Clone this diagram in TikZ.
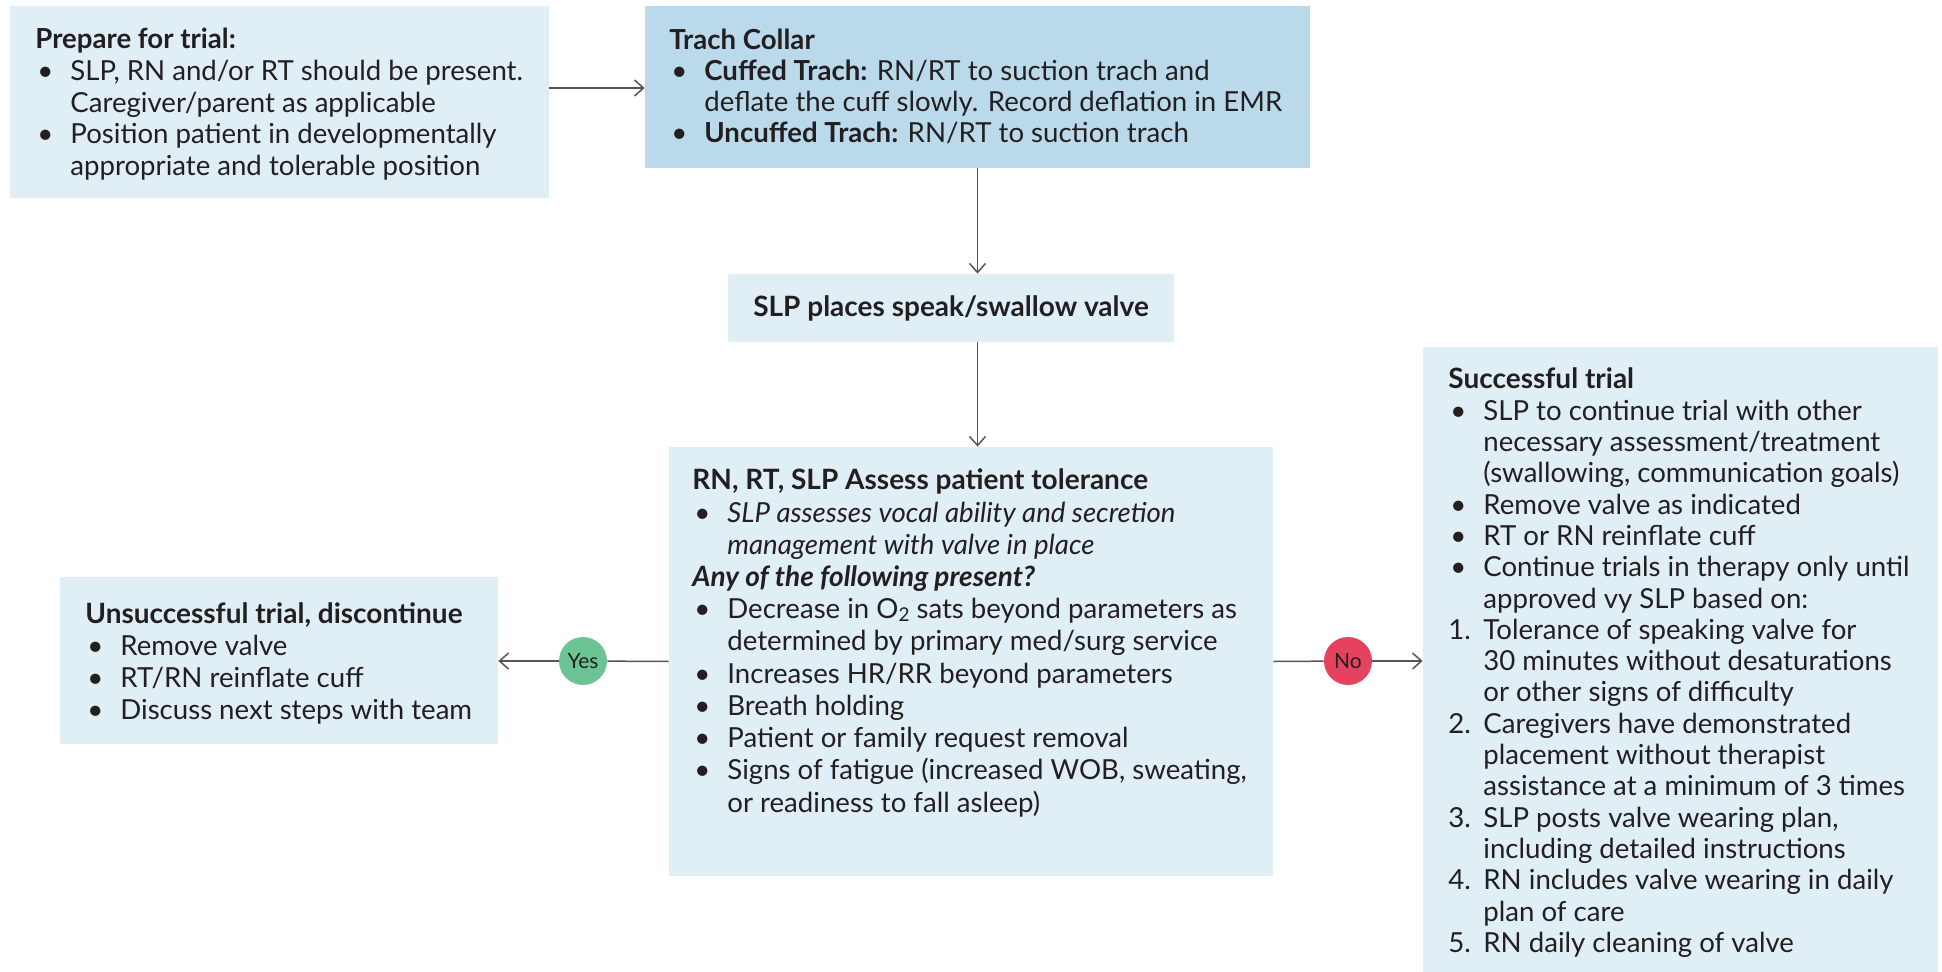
\documentclass[tikz,border=0pt]{standalone}
\usepackage{fontspec}
\setmainfont{Lato}
\usetikzlibrary{arrows.meta,fit,calc}
\definecolor{lightbox}{RGB}{224,238,246}
\definecolor{darkbox}{RGB}{186,218,235}
\definecolor{yesg}{RGB}{108,196,148}
\definecolor{nored}{RGB}{231,65,96}
\definecolor{textc}{RGB}{35,31,32}
\definecolor{linec}{RGB}{85,85,85}
\newcommand\LN[1]{\hbox{#1}}
\newcommand\BU{\hbox to 17.5pt{\hskip1pt\textbullet\hss}}
\newcommand\IN{\hskip17.5pt}
\newcommand\NU[1]{\hbox to 17.5pt{#1\hss}}
\newcommand\SUBTWO{\raisebox{-1.2pt}{\fontsize{9.5}{10}\selectfont 2}}
\tikzset{
  x=0.5pt, y=-0.5pt,
  lbox/.style={fill=lightbox, draw=none, inner sep=0pt},
  dbox/.style={fill=darkbox, draw=none, inner sep=0pt},
  txt/.style={inner sep=0pt, text=textc, font=\fontsize{13.8}{16}\selectfont},
  conn/.style={draw=linec, line width=0.75pt},
  arr/.style={conn, -{Straight Barb[length=4.5pt,width=8pt,line width=0.75pt]}},
  badge/.style={circle, minimum size=24pt, inner sep=0pt, text=textc, font=\fontsize{10.5}{12}\selectfont},
}
\begin{document}
\begin{tikzpicture}
\useasboundingbox (0,0) rectangle (1942,972);
% boxes
\node[lbox, fit={(10,6)(549,198)}] (prep) {};
\node[dbox, fit={(645,6)(1310,168)}] (trach) {};
\node[lbox, fit={(728,274)(1174,342)}] (slp) {};
\node[lbox, fit={(669,447)(1273,876)}] (assess) {};
\node[lbox, fit={(60,577)(498,744)}] (unsucc) {};
\node[lbox, fit={(1423,347)(1938,972)}] (succ) {};
% texts
\node[txt, anchor=base west] (prepT) at (35,49) {\vtop{\baselineskip=15.8pt
  \LN{\bfseries Prepare for trial:}
  \LN{\BU SLP, RN and/or RT should be present.}
  \LN{\IN Caregiver/parent as applicable}
  \LN{\BU Position patient in developmentally}
  \LN{\IN appropriate and tolerable position}}};
\node[txt, anchor=base west] (trachT) at (669,50) {\vtop{\baselineskip=15.5pt
  \LN{\bfseries Trach Collar}
  \LN{\BU\textbf{Cuffed Trach:} RN/RT to suction trach and}
  \LN{\IN deflate the cuff slowly. Record deflation in EMR}
  \LN{\BU\textbf{Uncuffed Trach:} RN/RT to suction trach}}};
\node[txt, font=\fontsize{14}{16}\selectfont\bfseries] (slpT) at (slp.center) {SLP places speak/swallow valve};
\node[txt, anchor=base west] (assessT) at (692,490) {\vtop{\baselineskip=16.1pt
  \LN{\fontsize{14}{16}\selectfont\bfseries RN, RT, SLP Assess patient tolerance}
  \LN{\BU\itshape SLP assesses vocal ability and secretion}
  \LN{\IN\itshape management with valve in place}
  \LN{\fontsize{14}{16}\selectfont\bfseries\itshape Any of the following present?}
  \LN{\BU Decrease in O\SUBTWO\ sats beyond parameters as}
  \LN{\IN determined by primary med/surg service}
  \LN{\BU Increases HR/RR beyond parameters}
  \LN{\BU Breath holding}
  \LN{\BU Patient or family request removal}
  \LN{\BU Signs of fatigue (increased WOB, sweating,}
  \LN{\IN or readiness to fall asleep)}}};
\node[txt, anchor=base west] (unsuccT) at (85,623) {\vtop{\baselineskip=16.1pt
  \LN{\fontsize{14}{16}\selectfont\bfseries Unsuccessful trial, discontinue}
  \LN{\BU Remove valve}
  \LN{\BU RT/RN reinflate cuff}
  \LN{\BU Discuss next steps with team}}};
\node[txt, anchor=base west] (succT) at (1448,389) {\vtop{\baselineskip=15.65pt
  \LN{\fontsize{14}{16}\selectfont\bfseries Successful trial}
  \LN{\BU SLP to continue trial with other}
  \LN{\IN necessary assessment/treatment}
  \LN{\IN (swallowing, communication goals)}
  \LN{\BU Remove valve as indicated}
  \LN{\BU RT or RN reinflate cuff}
  \LN{\BU Continue trials in therapy only until}
  \LN{\IN approved vy SLP based on:}
  \LN{\NU{1.}Tolerance of speaking valve for}
  \LN{\IN 30 minutes without desaturations}
  \LN{\IN or other signs of difficulty}
  \LN{\NU{2.}Caregivers have demonstrated}
  \LN{\IN placement without therapist}
  \LN{\IN assistance at a minimum of 3 times}
  \LN{\NU{3.}SLP posts valve wearing plan,}
  \LN{\IN including detailed instructions}
  \LN{\NU{4.}RN includes valve wearing in daily}
  \LN{\IN plan of care}
  \LN{\NU{5.}RN daily cleaning of valve}}};
% badges
\node[badge, fill=yesg] (yes) at (583,661) {Yes};
\node[badge, fill=nored] (no) at (1348,661) {No};
% connectors
\draw[arr] ([yshift=7pt]prep.east) -- ([yshift=7pt]prep.east -| trach.west);
\draw[arr] (trach.south) -- (trach.south |- slp.north);
\draw[arr] (slp.south -| trach.south) -- (trach.south |- assess.north);
\draw[conn] (assess.west) -- (yes);
\draw[arr] (yes) -- (unsucc.east |- yes);
\draw[conn] (assess.east) -- (no);
\draw[arr] (no) -- (succ.west |- no);
\end{tikzpicture}
\end{document}
